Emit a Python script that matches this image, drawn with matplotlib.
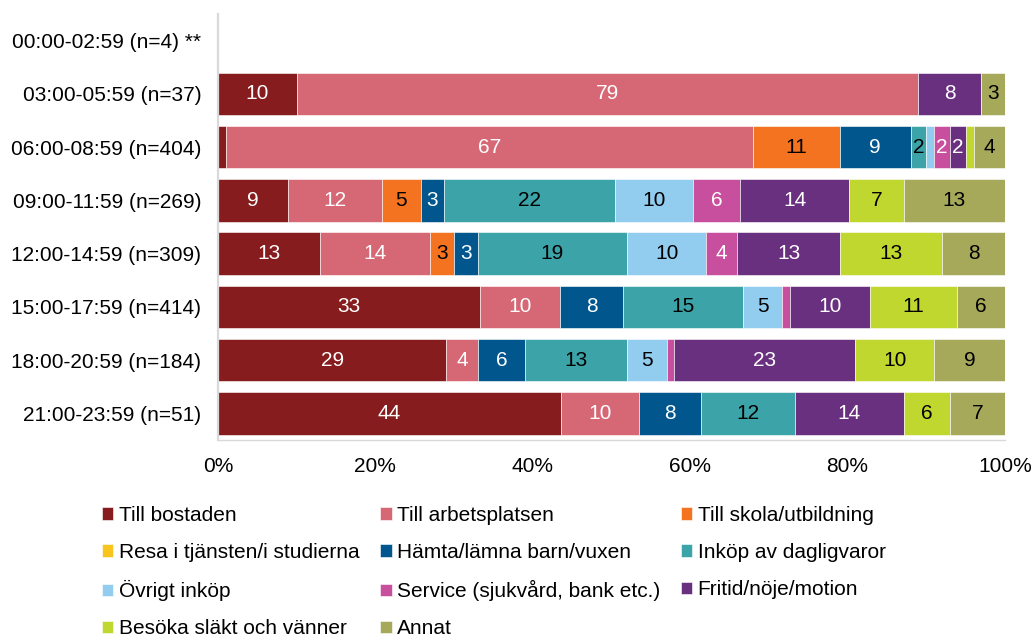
import matplotlib.pyplot as plt
import numpy as np

plt.rcParams['font.family'] = ['Liberation Sans', 'DejaVu Sans']

times = ["00:00-02:59 (n=4) **", "03:00-05:59 (n=37)", "06:00-08:59 (n=404)",
         "09:00-11:59 (n=269)", "12:00-14:59 (n=309)", "15:00-17:59 (n=414)",
         "18:00-20:59 (n=184)", "21:00-23:59 (n=51)"]

categories = ["Till bostaden", "Till arbetsplatsen", "Till skola/utbildning",
              "Resa i tjänsten/i studierna", "Hämta/lämna barn/vuxen",
              "Inköp av dagligvaror", "Övrigt inköp", "Service (sjukvård, bank etc.)",
              "Fritid/nöje/motion", "Besöka släkt och vänner", "Annat"]

till_bostaden = [0, 10, 1, 9, 13, 33, 29, 44]
till_arbetsplatsen = [0, 79, 67, 12, 14, 10, 4, 10]
till_skola = [0, 0, 11, 5, 3, 0, 0, 0]
resa_tjanst = [0, 0, 0, 0, 0, 0, 0, 0]
hamta_lamna = [0, 0, 9, 3, 3, 8, 6, 8]
inkop_dagligvaror = [0, 0, 2, 22, 19, 15, 13, 12]
ovrigt_inkop = [0, 0, 1, 10, 10, 5, 5, 0]
service = [0, 0, 2, 6, 4, 1, 1, 0]
fritid = [0, 8, 2, 14, 13, 10, 23, 14]
besoka = [0, 0, 1, 7, 13, 11, 10, 6]
annat = [0, 3, 4, 13, 8, 6, 9, 7]

colors = ["#861C1D", "#D66876", "#F37321", "#F7C51E", "#00568D", "#3CA3A8",
          "#92CDEF", "#C84E9E", "#6A3080", "#C0D730", "#A7A95A"]
text_colors = ["white", "white", "black", "black", "white", "black",
               "black", "white", "white", "black", "black"]

series = np.array([till_bostaden, till_arbetsplatsen, till_skola, resa_tjanst,
                   hamta_lamna, inkop_dagligvaror, ovrigt_inkop, service,
                   fritid, besoka, annat], dtype=float)
totals = series.sum(axis=0)
shares = np.divide(series * 100, totals, out=np.zeros_like(series), where=totals > 0)

fig = plt.figure(figsize=(10.35, 6.39), dpi=100)
ax = fig.add_axes([218 / 1035, 1 - 440 / 639, (1005 - 218) / 1035, (440 - 14) / 639])

y = np.arange(len(times))
left = np.zeros(len(times))
handles = []
for i, name in enumerate(categories):
    bars = ax.barh(y, shares[i], left=left, height=0.8, color=colors[i],
                   edgecolor="white", linewidth=0.4, label=name)
    handles.append(bars)
    for j in range(len(times)):
        if series[i, j] >= 2:
            ax.text(left[j] + shares[i, j] / 2, y[j], "%d" % series[i, j],
                    ha="center", va="center", fontsize=15, color=text_colors[i])
    left += shares[i]

ax.set_xlim(0, 100)
ax.set_ylim(len(times) - 0.5, -0.5)
ax.set_yticks(y)
ax.set_yticklabels(times, fontsize=15)
ax.set_xticks(np.arange(0, 101, 20))
ax.set_xticklabels(["%d%%" % v for v in range(0, 101, 20)], fontsize=15)
ax.tick_params(axis="both", length=0)
ax.tick_params(axis="y", pad=12)
ax.tick_params(axis="x", pad=12)
for side in ["top", "right"]:
    ax.spines[side].set_visible(False)
ax.spines["left"].set_color("#D9D9D9")
ax.spines["left"].set_linewidth(1.6)
ax.spines["bottom"].set_color("#D9D9D9")
ax.spines["bottom"].set_linewidth(1.0)

# Excel-style row-major legend order in matplotlib's column-major layout
order = [0, 3, 6, 9, 1, 4, 7, 10, 2, 5, 8]
fig.legend([handles[k] for k in order], [categories[k] for k in order],
           loc="upper left", bbox_to_anchor=(102 / 1035, 1 - 506 / 639),
           ncol=3, frameon=False, fontsize=15, handlelength=0.55, handleheight=0.55,
           handletextpad=0.25, columnspacing=1.0, labelspacing=0.87,
           borderpad=0, borderaxespad=0)

fig.savefig("out.png", dpi=100)
